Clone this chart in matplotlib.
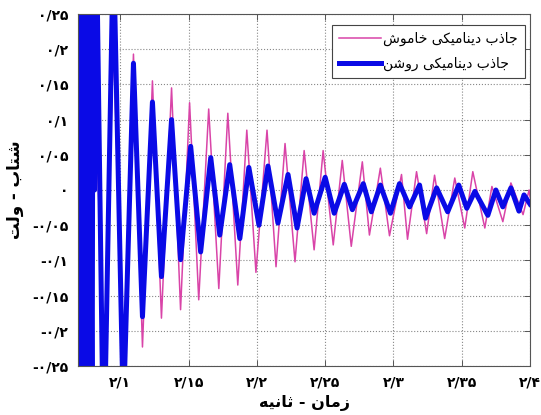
import numpy as np
import matplotlib
matplotlib.use('Agg')
import matplotlib.pyplot as plt

# ---- data (time in s, acceleration in V) ----
# magenta : absorber off, alternating peak / trough
off_t = [2.069, 2.0743, 2.081, 2.0882, 2.0949, 2.1022, 2.1096, 2.1162, 2.1235, 2.1301,
         2.1375, 2.1441, 2.1507, 2.1574, 2.1647, 2.1721, 2.1787, 2.1860, 2.1926, 2.1993,
         2.2074, 2.2140, 2.2206, 2.2279, 2.2346, 2.2419, 2.2485, 2.2559, 2.2625, 2.2691,
         2.2772, 2.2824, 2.2904, 2.2971, 2.3059, 2.3103, 2.3169, 2.3243, 2.3301, 2.3375,
         2.3449, 2.3522, 2.3581, 2.3669, 2.3721, 2.3801, 2.3860, 2.3949, 2.3993, 2.4]
off_v = [0.10, -0.27, 0.185, -0.27, 0.21, -0.245, 0.193, -0.223, 0.155, -0.182,
         0.145, -0.170, 0.124, -0.156, 0.115, -0.140, 0.109, -0.135, 0.085, -0.117,
         0.085, -0.109, 0.066, -0.102, 0.056, -0.085, 0.056, -0.078, 0.042, -0.080,
         0.040, -0.064, 0.031, -0.065, 0.022, -0.070, 0.026, -0.062, 0.021, -0.069,
         0.017, -0.054, 0.026, -0.054, 0.005, -0.045, 0.010, -0.035, 0.0, -0.01]

# blue : absorber on (saturated burst at the start, then decaying)
on_t = [2.0690, 2.0705, 2.0719, 2.0734, 2.0749, 2.0763, 2.0778, 2.0793, 2.0800, 2.0811,
        2.0822, 2.0878, 2.0949, 2.1022, 2.1096, 2.1162, 2.1235, 2.1301, 2.1375, 2.1441,
        2.1515, 2.1588, 2.1662, 2.1728, 2.1801, 2.1875, 2.1941, 2.2015, 2.2081, 2.2154,
        2.2228, 2.2294, 2.2360, 2.2419, 2.2500, 2.2566, 2.2640, 2.2699, 2.2779, 2.2838,
        2.2904, 2.2978, 2.3044, 2.3118, 2.3191, 2.3235, 2.3316, 2.3397, 2.3478, 2.3537,
        2.3596, 2.3691, 2.3750, 2.3801, 2.3860, 2.3919, 2.3956, 2.4]
on_v = [0.4, -0.4, 0.4, -0.4, 0.4, -0.4, 0.4, -0.4, 0.4, 0.0,
        0.4, -0.4, 0.35, -0.32, 0.18, -0.18, 0.125, -0.123, 0.10, -0.099,
        0.062, -0.088, 0.046, -0.064, 0.036, -0.069, 0.032, -0.050, 0.034, -0.047,
        0.022, -0.054, 0.016, -0.033, 0.018, -0.033, 0.008, -0.028, 0.009, -0.031,
        0.007, -0.033, 0.009, -0.024, 0.007, -0.040, 0.003, -0.031, 0.007, -0.026,
        -0.002, -0.036, 0.0, -0.024, 0.003, -0.030, -0.007, -0.02]

x_ticks = [2.1, 2.15, 2.2, 2.25, 2.3, 2.35, 2.4]
y_ticks = [-0.25, -0.2, -0.15, -0.1, -0.05, 0, 0.05, 0.1, 0.15, 0.2, 0.25]

label_off = 'جاذب دینامیکی خاموش'
label_on = 'جاذب دینامیکی روشن'
x_label = 'زمان - ثانیه'
y_label = 'شتاب - ولت'

# ---- small persian shaper (matplotlib has no bidi / joining) ----
FORMS = {
    'ا': ('\ufe8d', '\ufe8e', None, None),
    'ب': ('\ufe8f', '\ufe90', '\ufe91', '\ufe92'),
    'ت': ('\ufe95', '\ufe96', '\ufe97', '\ufe98'),
    'ث': ('\ufe99', '\ufe9a', '\ufe9b', '\ufe9c'),
    'ج': ('\ufe9d', '\ufe9e', '\ufe9f', '\ufea0'),
    'خ': ('\ufea5', '\ufea6', '\ufea7', '\ufea8'),
    'د': ('\ufea9', '\ufeaa', None, None),
    'ذ': ('\ufeab', '\ufeac', None, None),
    'ر': ('\ufead', '\ufeae', None, None),
    'ز': ('\ufeaf', '\ufeb0', None, None),
    'ش': ('\ufeb5', '\ufeb6', '\ufeb7', '\ufeb8'),
    'ل': ('\ufedd', '\ufede', '\ufedf', '\ufee0'),
    'م': ('\ufee1', '\ufee2', '\ufee3', '\ufee4'),
    'ن': ('\ufee5', '\ufee6', '\ufee7', '\ufee8'),
    'ه': ('\ufee9', '\ufeea', '\ufeeb', '\ufeec'),
    'و': ('\ufeed', '\ufeee', None, None),
    'ی': ('\ufbfc', '\ufbfd', '\ufbfe', '\ufbff'),
    'ک': ('\ufb8e', '\ufb8f', '\ufb90', '\ufb91'),
}


def shape(s):
    out = []
    for i, c in enumerate(s):
        if c not in FORMS:
            out.append(c)
            continue
        prev = s[i - 1] if i > 0 else ''
        nxt = s[i + 1] if i + 1 < len(s) else ''
        join_prev = prev in FORMS and FORMS[prev][2] is not None
        join_next = nxt in FORMS and FORMS[c][2] is not None
        iso, fin, ini, med = FORMS[c]
        if join_prev and join_next:
            out.append(med)
        elif join_prev:
            out.append(fin)
        elif join_next:
            out.append(ini)
        else:
            out.append(iso)
    return ''.join(out)[::-1]


fa_digits = str.maketrans('0123456789', '۰۱۲۳۴۵۶۷۸۹')


def fa_num(v):
    s = ('%.2f' % v).rstrip('0').rstrip('.')
    if s in ('-0', ''):
        s = '0'
    return s.replace('.', '/').translate(fa_digits)


plt.rcParams['font.family'] = 'DejaVu Sans'

fig = plt.figure(figsize=(5.41, 4.15), dpi=100)
ax = fig.add_axes([0.1442, 0.1181, 0.8355, 0.8482])

ax.plot(off_t, off_v, color='#d944a8', lw=1.1, label=shape(label_off))
ax.plot(on_t, on_v, color='#0a0ae6', lw=3.6, label=shape(label_on))

ax.set_xlim(2.069, 2.4)
ax.set_ylim(-0.25, 0.25)
ax.set_xticks(x_ticks)
ax.set_yticks(y_ticks)
ax.set_xticklabels([fa_num(v) for v in x_ticks], fontsize=10, fontweight='bold')
ax.set_yticklabels([fa_num(v) for v in y_ticks], fontsize=10, fontweight='bold')
ax.tick_params(direction='in', top=True, right=True, length=4, width=0.7,
               colors='#555555', labelcolor='black', pad=7)
ax.grid(True, linestyle=':', color='#888888', lw=0.8)
for sp in ax.spines.values():
    sp.set_color('#555555')
    sp.set_linewidth(0.8)

ax.set_xlabel(shape(x_label), fontsize=11.5, fontweight='bold', labelpad=4)
ax.set_ylabel(shape(y_label), fontsize=12, fontweight='bold', labelpad=6)

leg = ax.legend(loc='upper right', bbox_to_anchor=(0.989, 0.969), fontsize=10,
                fancybox=False, framealpha=1, edgecolor='#444444',
                handlelength=3.0, handletextpad=0.2, borderpad=0.5,
                labelspacing=0.75, borderaxespad=0)
leg.get_frame().set_linewidth(0.8)

fig.savefig('out.png', dpi=100)
